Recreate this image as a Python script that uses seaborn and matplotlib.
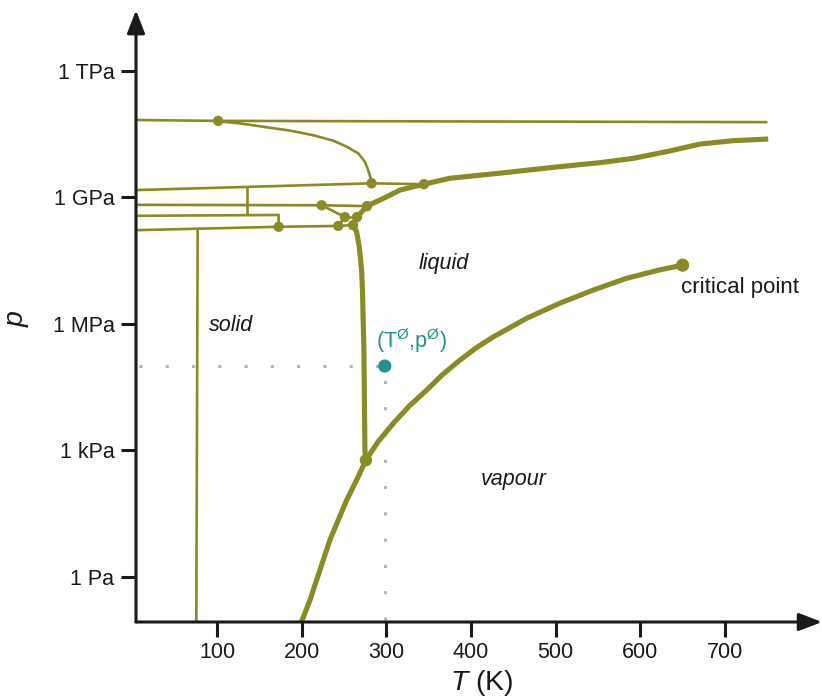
import numpy as np
import matplotlib
matplotlib.use("Agg")
import matplotlib.pyplot as plt
import seaborn as sns

# ---- phase boundaries of water: temperature in K, pressure as log10(p / Pa) ----
sublimation_T = [199.5, 209.8, 217.7, 225.5, 233.4, 243.2, 253.1, 264.9, 275.9]
sublimation_logp = [-1.08, -0.55, -0.07, 0.40, 0.88, 1.35, 1.82, 2.30, 2.77]

vaporization_T = [275.9, 290.0, 308.1, 327.0, 347.6, 366.5, 386.9, 406.0, 426.2, 465.6,
                  505.0, 544.3, 583.7, 623.0, 649.8]
vaporization_logp = [2.77, 3.20, 3.64, 4.05, 4.43, 4.80, 5.14, 5.43, 5.69, 6.13,
                     6.49, 6.80, 7.08, 7.28, 7.39]

melting_T = [275.9, 274.7, 273.5, 271.8, 270.8, 268.0, 264.9, 260.6, 265.3, 277.2, 284.5,
             300.4, 316.1, 344.4, 375.1, 434.1, 493.0, 552.2, 591.1, 630.9, 670.3, 709.2, 750.9]
melting_logp = [2.77, 3.01, 5.38, 6.80, 7.27, 7.83, 8.18, 8.34, 8.53, 8.79, 8.86,
                9.01, 9.17, 9.31, 9.45, 9.57, 9.70, 9.82, 9.92, 10.08, 10.26, 10.34, 10.38]

# solid-solid boundaries
ice_x_T = [5.5, 101.4, 750.0]
ice_x_logp = [10.83, 10.81, 10.78]
ice_vii_x_T = [102.4, 127.2, 154.7, 186.2, 213.7, 237.3, 253.1, 266.8, 274.7, 278.6, 281.5, 282.6]
ice_vii_x_logp = [10.80, 10.75, 10.67, 10.58, 10.47, 10.34, 10.20, 10.04, 9.84, 9.64, 9.45, 9.33]
ice_vii_viii_T = [5.5, 282.6, 344.4]
ice_vii_viii_logp = [9.17, 9.33, 9.31]
ice_upper_step_T = [135.1, 135.1]
ice_upper_step_logp = [9.24, 8.57]
ice_vi_T = [5.5, 223.6, 277.2]
ice_vi_logp = [8.82, 8.81, 8.79]
ice_mid_T = [5.5, 172.8, 172.8]
ice_mid_logp = [8.56, 8.58, 8.30]
ice_ii_T = [5.5, 172.8, 243.2, 260.6]
ice_ii_logp = [8.22, 8.30, 8.32, 8.34]
ice_low_T = [77.2, 75.6]
ice_low_logp = [8.23, -1.08]
ice_ii_v_T = [223.6, 251.1]
ice_ii_v_logp = [8.81, 8.53]
ice_ii_iii_T = [251.1, 243.2]
ice_ii_iii_logp = [8.53, 8.32]
ice_iii_v_T = [251.1, 265.3]
ice_iii_v_logp = [8.53, 8.53]

# junctions between phases
junction_T = [101.4, 282.6, 344.4, 223.6, 277.2, 251.1, 265.3, 243.2, 260.6, 172.8]
junction_logp = [10.81, 9.33, 9.31, 8.81, 8.79, 8.53, 8.53, 8.32, 8.34, 8.30]
triple_T, triple_logp = 275.9, 2.77
critical_T, critical_logp = 649.8, 7.39
standard_T, standard_logp = 298.15, 5.0

region_labels = ["solid", "liquid", "vapour"]
region_T = [116.5, 368.0, 450.7]
region_logp = [5.97, 7.42, 2.32]

x_ticks = [100, 200, 300, 400, 500, 600, 700]
y_tick_logp = [0, 3, 6, 9, 12]
y_tick_labels = ["1 Pa", "1 kPa", "1 MPa", "1 GPa", "1 TPa"]

# ---- style ----
sns.set_theme(style="white")
plt.rcParams["font.family"] = ["Liberation Sans", "DejaVu Sans"]
plt.rcParams["mathtext.fontset"] = "custom"
plt.rcParams["mathtext.rm"] = "Liberation Sans"
plt.rcParams["mathtext.it"] = "Liberation Sans:italic"
plt.rcParams["lines.solid_capstyle"] = "butt"
plt.rcParams["lines.solid_joinstyle"] = "round"

olive = "#8a8b23"
teal = "#23918b"
ink = "#1a1a1a"
grey = "#b5b5b5"
thin = 1.9
thick = 3.7
fs = 15.5

fig = plt.figure(figsize=(8.22, 6.98), dpi=100)
ax = fig.add_axes([136 / 822, 76 / 698, 686 / 822, 610 / 698])
ax.set_yscale("log")
ax.set_xlim(4.4, 814.4)
ax.set_ylim(10 ** -1.066, 10 ** 13.39)


def p(logp):
    return 10 ** np.asarray(logp, dtype=float)


# standard-state guide lines
ax.plot([ax.get_xlim()[0] + 3, standard_T], p([standard_logp, standard_logp]),
        color=grey, lw=2.2, ls=(0, (1.0, 7.6)), dash_capstyle="butt", zorder=1)
ax.plot([standard_T, standard_T], p([-1.02, standard_logp]),
        color=grey, lw=2.2, ls=(0, (1.0, 7.6)), dash_capstyle="butt", zorder=1)

thin_lines = [
    (ice_x_T, ice_x_logp), (ice_vii_x_T, ice_vii_x_logp),
    (ice_vii_viii_T, ice_vii_viii_logp), (ice_upper_step_T, ice_upper_step_logp),
    (ice_vi_T, ice_vi_logp), (ice_mid_T, ice_mid_logp), (ice_ii_T, ice_ii_logp),
    (ice_low_T, ice_low_logp), (ice_ii_v_T, ice_ii_v_logp),
    (ice_ii_iii_T, ice_ii_iii_logp), (ice_iii_v_T, ice_iii_v_logp),
]
for xs, ys in thin_lines:
    sns.lineplot(x=xs, y=p(ys), sort=False, estimator=None, color=olive,
                 linewidth=thin, ax=ax, zorder=2)

for xs, ys in [(sublimation_T, sublimation_logp),
               (vaporization_T, vaporization_logp),
               (melting_T, melting_logp)]:
    sns.lineplot(x=xs, y=p(ys), sort=False, estimator=None, color=olive,
                 linewidth=thick, ax=ax, zorder=3)

sns.scatterplot(x=junction_T, y=p(junction_logp), s=55, color=olive,
                edgecolor="none", ax=ax, zorder=4)
sns.scatterplot(x=[triple_T], y=p([triple_logp]), s=80, color=olive,
                edgecolor="none", ax=ax, zorder=4)
sns.scatterplot(x=[critical_T], y=p([critical_logp]), s=90, color=olive,
                edgecolor="none", ax=ax, zorder=4)
sns.scatterplot(x=[standard_T], y=p([standard_logp]), s=90, color=teal,
                edgecolor="none", ax=ax, zorder=5)

# text annotations
for label, t, lp in zip(region_labels, region_T, region_logp):
    ax.text(t, p(lp), label, style="italic", fontsize=fs, color=ink,
            ha="center", va="center")
ax.text(critical_T - 2, p(6.87), "critical point", fontsize=fs + 0.5, color=ink,
        ha="left", va="center")
ax.text(330.2, p(5.59), r"(T$^\mathregular{Ø}$,p$^\mathregular{Ø}$)",
        fontsize=fs, color=teal, ha="center", va="center")

# axes drawn as arrows
for s in ax.spines.values():
    s.set_visible(False)
arrow = dict(arrowstyle="-|>,head_length=14,head_width=5.4", mutation_scale=1,
             color=ink, lw=2.2, shrinkA=0, shrinkB=0)
ax.annotate("", xy=(0, 1.003), xytext=(0, 0), xycoords="axes fraction",
            textcoords="axes fraction", arrowprops=arrow, annotation_clip=False)
ax.annotate("", xy=(1, 0), xytext=(0, 0), xycoords="axes fraction",
            textcoords="axes fraction", arrowprops=arrow, annotation_clip=False)

ax.set_xticks(x_ticks)
ax.set_xticklabels([str(v) for v in x_ticks])
ax.yaxis.set_minor_locator(matplotlib.ticker.NullLocator())
ax.set_yticks(p(y_tick_logp))
ax.set_yticklabels(y_tick_labels)
ax.tick_params(axis="both", which="major", direction="out", length=10.5,
               width=2.2, color=ink, labelsize=fs, labelcolor=ink)
ax.tick_params(axis="x", pad=4.0, bottom=True)
ax.tick_params(axis="y", pad=5, left=True)
ax.grid(False)

ax.text(0.504, -0.1, r"$T$ (K)", transform=ax.transAxes, fontsize=20.5,
        color=ink, ha="center", va="center")
ax.text(-0.172, 0.498, r"$p$", transform=ax.transAxes, fontsize=20.5,
        color=ink, ha="center", va="center", rotation=90)

fig.savefig("out.png", dpi=100, facecolor="white")
